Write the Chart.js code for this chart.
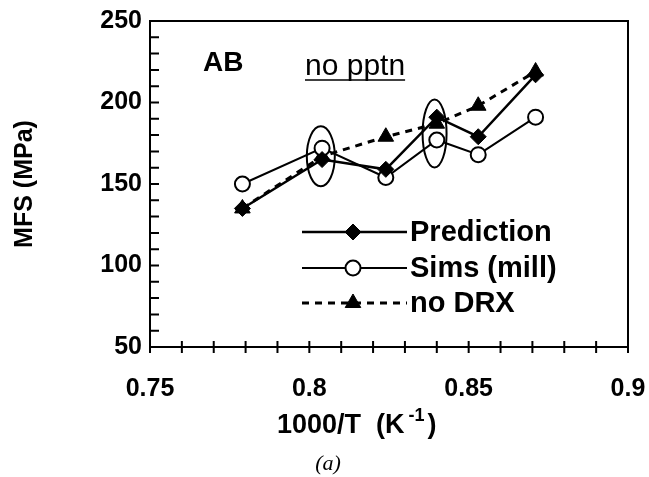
<!DOCTYPE html>
<html>
<head>
<meta charset="utf-8">
<script src="https://cdn.jsdelivr.net/npm/chart.js@4.4.1/dist/chart.umd.min.js"></script>
<style>
  html, body { margin: 0; padding: 0; background: #fff; }
</style>
</head>
<body>
<canvas id="mfs" width="649" height="477"></canvas>
<script>
// 1000/T values and flow stress series (MPa)
const invTemp = [0.779, 0.804, 0.824, 0.840, 0.853, 0.871];
const prediction = [135, 165, 159, 191, 179, 217];
const simsMill = [150, 172, 154, 177, 168, 191];
const noDrx = [135, 167, 179, 187, 198, 219];
const xTickLabels = ["0.75", "0.8", "0.85", "0.9"];
const yTickLabels = ["50", "100", "150", "200", "250"];
// circled points, in data units
const circledX = [0.8036, 0.8393];
const circledY = [167, 181];

const FONT = "'Liberation Sans', Arial, Helvetica, sans-serif";
const toPoints = (ys) => ys.map((y, i) => ({ x: invTemp[i], y: y }));

const xLabel = (v) => {
  const s = String(Math.round(v * 100) / 100);
  return xTickLabels.includes(s) ? s : "";
};
const yLabel = (v) => {
  const s = String(Math.round(v));
  return yTickLabels.includes(s) ? s : "";
};

const decor = {
  id: "decor",
  afterDraw(chart) {
    const ctx = chart.ctx;
    const { left, right, top, bottom } = chart.chartArea;
    const xs = chart.scales.x;
    const ys = chart.scales.y;
    ctx.save();
    ctx.strokeStyle = "#000";
    ctx.fillStyle = "#000";

    // frame
    ctx.lineWidth = 2;
    ctx.strokeRect(left, top, right - left, bottom - top);

    // tick marks: crossing on x, inward on y
    ctx.beginPath();
    xs.ticks.forEach((t) => {
      const px = xs.getPixelForValue(t.value);
      ctx.moveTo(px, bottom - 6);
      ctx.lineTo(px, bottom + 6);
    });
    ys.ticks.forEach((t) => {
      const py = ys.getPixelForValue(t.value);
      ctx.moveTo(left, py);
      ctx.lineTo(left + 9, py);
    });
    ctx.stroke();

    // ellipses round the circled points
    ctx.lineWidth = 2;
    circledX.forEach((cx, i) => {
      ctx.beginPath();
      ctx.ellipse(xs.getPixelForValue(cx), ys.getPixelForValue(circledY[i]), i ? 12 : 14, i ? 34 : 30, 0, 0, Math.PI * 2);
      ctx.stroke();
    });

    // labels inside plot
    ctx.textBaseline = "alphabetic";
    ctx.font = "bold 28px " + FONT;
    ctx.fillText("AB", 203, 71);
    ctx.font = "30px " + FONT;
    ctx.fillText("no pptn", 305, 75);
    const w = ctx.measureText("no pptn").width;
    ctx.lineWidth = 1.5;
    ctx.beginPath();
    ctx.moveTo(305, 80);
    ctx.lineTo(305 + w, 80);
    ctx.stroke();

    // legend
    const rows = [232, 268, 303];
    chart.data.datasets.forEach((ds, i) => {
      const y = rows[i];
      ctx.lineWidth = ds.borderWidth;
      ctx.setLineDash(ds.borderDash || []);
      ctx.beginPath();
      ctx.moveTo(302, y);
      ctx.lineTo(407, y);
      ctx.stroke();
      ctx.setLineDash([]);
      ctx.fillStyle = ds.pointBackgroundColor;
      ctx.lineWidth = ds.pointBorderWidth || 1;
      Chart.helpers.drawPoint(ctx, { pointStyle: ds.pointStyle, radius: ds.pointRadius, borderWidth: ctx.lineWidth, rotation: 0 }, 353, y);
      ctx.fillStyle = "#000";
      ctx.font = "bold 29px " + FONT;
      ctx.textBaseline = "middle";
      ctx.fillText(ds.label, 410, y + 1);
    });

    // x-axis title with superscript
    ctx.textBaseline = "alphabetic";
    let x = 277;
    const base = 433;
    ctx.font = "bold 27px " + FONT;
    ctx.fillText("1000/T  (K", x, base);
    x += ctx.measureText("1000/T  (K").width + 4;
    ctx.font = "bold 18px " + FONT;
    ctx.fillText("-1", x, base - 12);
    x += ctx.measureText("-1").width + 3;
    ctx.font = "bold 27px " + FONT;
    ctx.fillText(")", x, base);

    // panel caption
    ctx.font = "italic 22px 'Liberation Serif', 'Times New Roman', serif";
    ctx.textAlign = "center";
    ctx.fillText("(a)", 328, 470);
    ctx.restore();
  },
};

new Chart(document.getElementById("mfs"), {
  type: "line",
  data: {
    datasets: [
      {
        label: "Prediction",
        data: toPoints(prediction),
        borderColor: "#000",
        backgroundColor: "#000",
        pointBackgroundColor: "#000",
        borderWidth: 2.5,
        pointStyle: "rectRot",
        pointRadius: 8,
        pointBorderWidth: 1,
      },
      {
        label: "Sims (mill)",
        data: toPoints(simsMill),
        borderColor: "#000",
        backgroundColor: "#fff",
        pointBackgroundColor: "#fff",
        borderWidth: 2,
        pointStyle: "circle",
        pointRadius: 7.5,
        pointBorderWidth: 2,
      },
      {
        label: "no DRX",
        data: toPoints(noDrx),
        borderColor: "#000",
        backgroundColor: "#000",
        pointBackgroundColor: "#000",
        borderWidth: 3,
        borderDash: [7, 6],
        pointStyle: "triangle",
        pointRadius: 9,
        pointBorderWidth: 1,
      },
    ],
  },
  options: {
    responsive: false,
    devicePixelRatio: 1,
    animation: false,
    layout: { padding: { top: 21, right: 21, left: 0, bottom: 0 } },
    plugins: { legend: { display: false }, tooltip: { enabled: false } },
    scales: {
      x: {
        type: "linear",
        min: 0.75,
        max: 0.9,
        grid: { display: false, drawTicks: false },
        border: { display: true, color: "#000", width: 2 },
        ticks: {
          stepSize: 0.01,
          autoSkip: false,
          maxRotation: 0,
          padding: 27,
          color: "#000",
          font: { family: FONT, size: 25, weight: "bold" },
          callback: xLabel,
        },
        afterFit: (s) => {
          s.height = 130;
          s.paddingLeft = 0;
          s.paddingRight = 0;
        },
      },
      y: {
        min: 50,
        max: 250,
        grid: { display: false, drawTicks: false },
        border: { display: true, color: "#000", width: 2 },
        ticks: {
          stepSize: 10,
          autoSkip: false,
          padding: 8,
          color: "#000",
          font: { family: FONT, size: 25, weight: "bold" },
          callback: yLabel,
        },
        title: {
          display: true,
          text: "MFS (MPa)",
          color: "#000",
          padding: { top: 10, bottom: 0 },
          font: { family: FONT, size: 25, weight: "bold" },
        },
        afterFit: (s) => {
          s.width = 150;
          s.paddingTop = 0;
          s.paddingBottom = 0;
        },
      },
    },
  },
  plugins: [decor],
});
</script>
</body>
</html>
